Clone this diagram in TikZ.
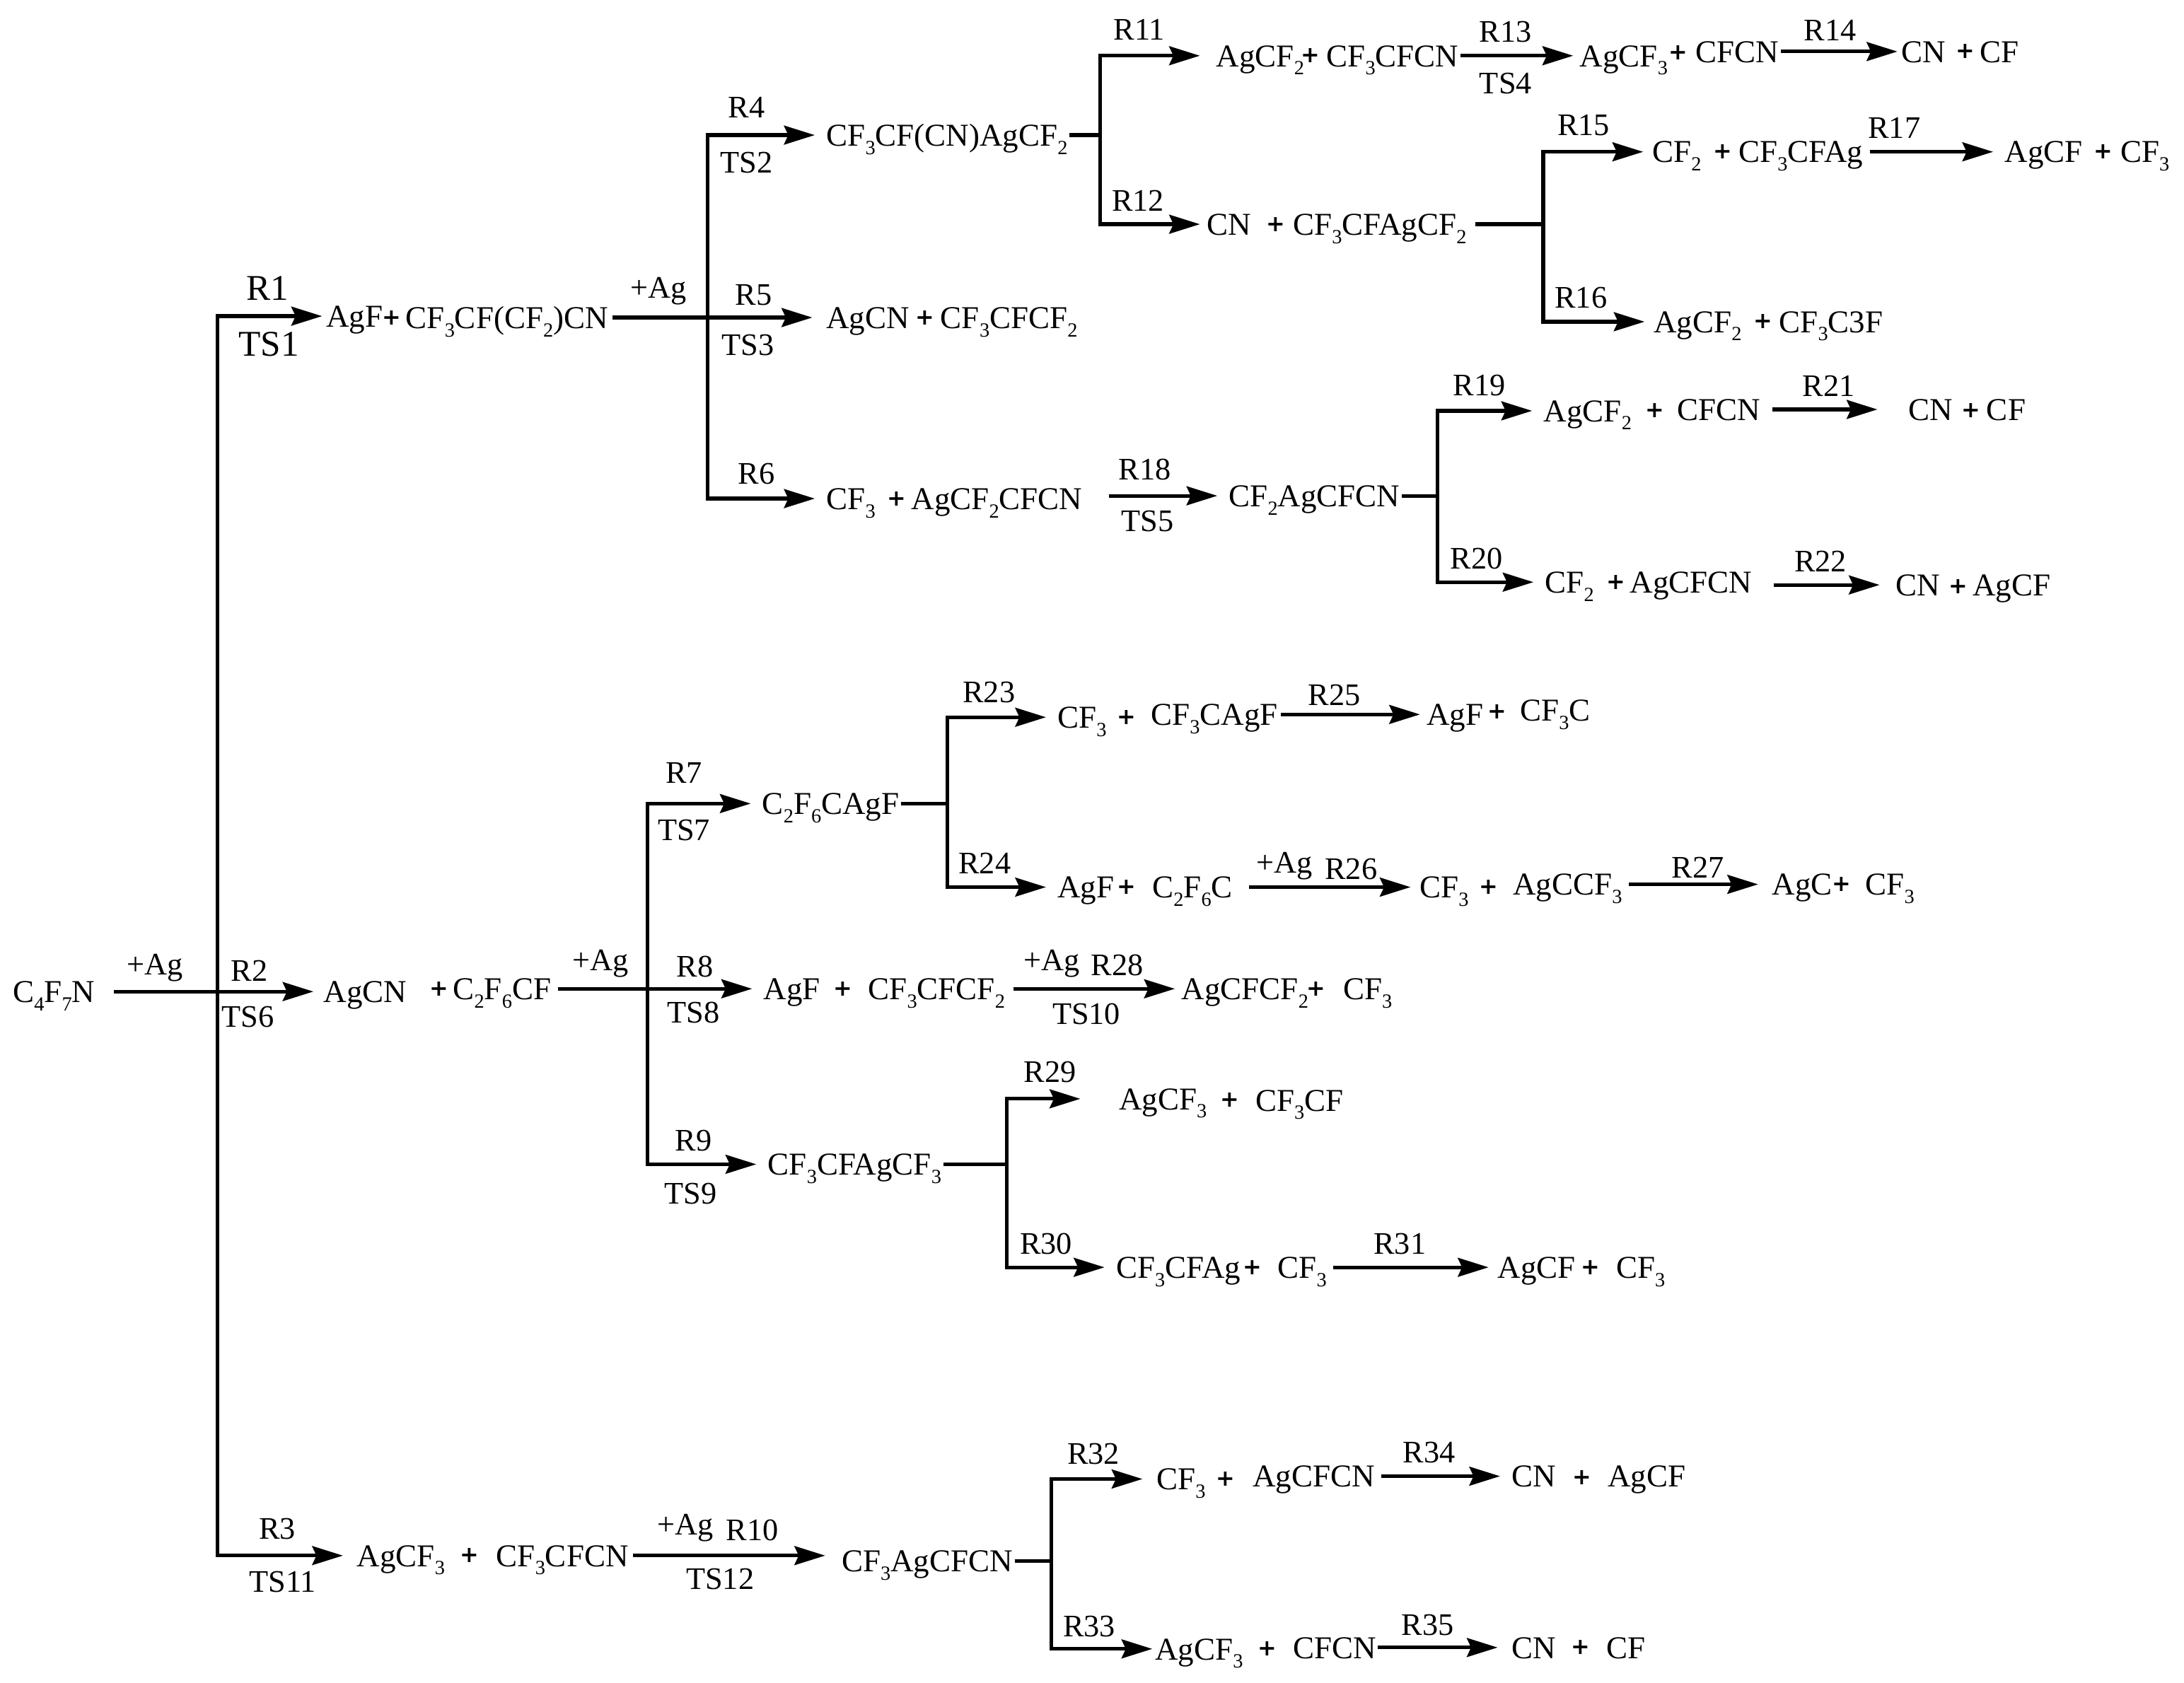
\documentclass[tikz,border=0pt]{standalone}
\usepackage{fontspec}
\setmainfont{Liberation Serif}
\newfontfamily\plusfont{DejaVu Sans}
\usetikzlibrary{arrows.meta}
\newcommand{\low}[1]{\raisebox{-1.7pt}{\fontsize{4.1}{5}\selectfont #1}}
\tikzset{
  >={Stealth[length=0.22cm,width=0.135cm,inset=0.03cm]},
  sp/.style={anchor=west,inner sep=0pt,text height=4.4pt,text depth=0pt,font=\fontsize{6.5}{8}\selectfont},
  pl/.style={inner sep=0pt,font=\plusfont\bfseries\fontsize{4.6}{6}\selectfont},
  lab/.style={inner sep=0pt,font=\fontsize{6.4}{8}\selectfont},
  biglab/.style={inner sep=0pt,font=\fontsize{7.4}{9}\selectfont},
  link/.style={->,shorten <=1pt,shorten >=1pt},
  branch/.style={->,shorten >=2pt}
}
\begin{document}
\begin{tikzpicture}[x=0.01cm,y=-0.01cm,line width=0.75pt]
  \useasboundingbox (0,0) rectangle (1568,1208);
  % start and first fork
  \node[sp] (c4f7n) at (8,712) {C\low{4}F\low{7}N};
  \coordinate (j0) at (156,712);
  \node[lab] (ag0) at (111,695) {+Ag};

  \node[sp] (agf1) at (233,227) {AgF};
  \node[pl] (pl1) at (281,228) {+};
  \node[sp] (cf3cfcf2cn) at (290,228) {CF\low{3}CF(CF\low{2})CN};
  \node[biglab] (r1) at (192,207) {R1};
  \node[biglab] (ts1) at (193,247) {TS1};

  \node[sp] (agcn2) at (231,712) {AgCN};
  \node[pl] (pl2) at (315,710) {+};
  \node[sp] (c2f6cf) at (324,710) {C\low{2}F\low{6}CF};
  \node[lab] (r2) at (179,697) {R2};
  \node[lab] (ts6) at (178,730) {TS6};

  \node[sp] (agcf33) at (255,1117) {AgCF\low{3}};
  \node[pl] (pl3) at (337,1117) {+};
  \node[sp] (cf3cfcn3) at (355,1117) {CF\low{3}CFCN};
  \node[lab] (r3) at (199,1098) {R3};
  \node[lab] (ts11) at (203,1136) {TS11};

  \draw[link,shorten <=3.5pt,shorten >=1.7pt] (c4f7n) -- (agcn2);
  \draw[->,shorten >=0.5pt] (j0) |- (agf1.west);
  \draw[->,shorten >=2.5pt] (j0) |- (agcf33.west);

  % upper fork
  \coordinate (j1) at (508,228);
  \node[lab] (ag1) at (473,209) {+Ag};
  \node[sp] (cf3cfcnagcf2) at (592,97) {CF\low{3}CF(CN)AgCF\low{2}};
  \node[lab] (r4) at (536,77) {R4};
  \node[lab] (ts2) at (536,117) {TS2};
  \node[sp] (agcn5) at (592,228) {AgCN};
  \node[pl] (pl5) at (664,228) {+};
  \node[sp] (cf3cfcf2) at (674,228) {CF\low{3}CFCF\low{2}};
  \node[lab] (r5) at (541,212) {R5};
  \node[lab] (ts3) at (537,248) {TS3};
  \node[sp] (cf36) at (592,358) {CF\low{3}};
  \node[pl] (pl6) at (644,358) {+};
  \node[sp] (agcf2cfcn) at (653,358) {AgCF\low{2}CFCN};
  \node[lab] (r6) at (543,340) {R6};
  \draw[link,shorten <=0.5pt,shorten >=2.5pt] (cf3cfcf2cn) -- (agcn5);
  \draw[branch] (j1) |- (cf3cfcnagcf2.west);
  \draw[branch] (j1) |- (cf36.west);

  % R11 to R17
  \coordinate (j2) at (790,97);
  \node[sp] (agcf211) at (872,40) {AgCF\low{2}};
  \node[pl] (pl11) at (941,40) {+};
  \node[sp] (cf3cfcn11) at (951,40) {CF\low{3}CFCN};
  \node[lab] (r11) at (818,21) {R11};
  \node[sp] (agcf313) at (1133,40) {AgCF\low{3}};
  \node[pl] (pl13) at (1205,38) {+};
  \node[sp] (cfcn13) at (1216,37) {CFCN};
  \node[lab] (r13) at (1081,23) {R13};
  \node[lab] (ts4) at (1081,60) {TS4};
  \node[sp] (cn14) at (1364,37) {CN};
  \node[pl] (pl14) at (1411,37) {+};
  \node[sp] (cf14) at (1420,37) {CF};
  \node[lab] (r14) at (1314,22) {R14};
  \node[sp] (cn12) at (865,161) {CN};
  \node[pl] (pl12) at (916,161) {+};
  \node[sp] (cf3cfagcf2) at (927,161) {CF\low{3}CFAgCF\low{2}};
  \node[lab] (r12) at (817,144) {R12};
  \coordinate (j3) at (1108,161);
  \node[sp] (cf215) at (1185,109) {CF\low{2}};
  \node[pl] (pl15) at (1237,109) {+};
  \node[sp] (cf3cfag15) at (1247,109) {CF\low{3}CFAg};
  \node[lab] (r15) at (1137,90) {R15};
  \node[sp] (agcf17) at (1438,109) {AgCF};
  \node[pl] (pl17) at (1510,109) {+};
  \node[sp] (cf317) at (1521,109) {CF\low{3}};
  \node[lab] (r17) at (1360,92) {R17};
  \node[sp] (agcf216) at (1186,231) {AgCF\low{2}};
  \node[pl] (pl16) at (1266,231) {+};
  \node[sp] (cf3c3f) at (1276,231) {CF\low{3}C3F};
  \node[lab] (r16) at (1135,214) {R16};
  \draw (cf3cfcnagcf2) -- (j2);
  \draw[branch,shorten >=3pt] (j2) |- (agcf211.west);
  \draw[branch,shorten >=1pt] (j2) |- (cn12.west);
  \draw[link,shorten <=0pt] (cf3cfcn11) -- (agcf313);
  \draw[->,shorten >=0.5pt] (cfcn13) -- (cn14);
  \draw[shorten <=1.5pt] (cf3cfagcf2) -- (j3);
  \draw[branch,shorten >=1.5pt] (j3) |- (cf215.west);
  \draw[branch,shorten >=1.5pt] (j3) |- (agcf216.west);
  \draw[link,shorten <=1pt,shorten >=2pt] (cf3cfag15) -- (agcf17);

  % R18 to R22
  \node[sp] (cf2agcfcn) at (881,356) {CF\low{2}AgCFCN};
  \node[lab] (r18) at (822,337) {R18};
  \node[lab] (ts5) at (824,374) {TS5};
  \coordinate (j4) at (1032,356);
  \node[sp] (agcf219) at (1107,295) {AgCF\low{2}};
  \node[pl] (pl19) at (1188,295) {+};
  \node[sp] (cfcn19) at (1203,294) {CFCN};
  \node[lab] (r19) at (1062,277) {R19};
  \node[sp] (cn21) at (1369,294) {CN};
  \node[pl] (pl21) at (1415,295) {+};
  \node[sp] (cf21) at (1425,294) {CF};
  \node[lab] (r21) at (1313,277) {R21};
  \node[sp] (cf220) at (1108,418) {CF\low{2}};
  \node[pl] (pl20) at (1160,418) {+};
  \node[sp] (agcfcn20) at (1169,418) {AgCFCN};
  \node[lab] (r20) at (1060,401) {R20};
  \node[sp] (cn22) at (1360,420) {CN};
  \node[pl] (pl22) at (1406,421) {+};
  \node[sp] (agcf22) at (1415,420) {AgCF};
  \node[lab] (r22) at (1307,403) {R22};
  \draw[link,shorten <=5pt,shorten >=2pt] (cf2agcfcn -| agcf2cfcn.east) -- (cf2agcfcn);
  \draw (cf2agcfcn) -- (j4);
  \draw[branch] (j4) |- (agcf219.west);
  \draw[branch] (j4) |- (cf220.west);
  \draw[link,shorten <=2pt,shorten >=6pt] (cfcn19) -- (cn21);
  \draw[link,shorten <=4pt,shorten >=3pt] (cn22 -| agcfcn20.east) -- (cn22);

  % second fork
  \coordinate (j5) at (465,710);
  \node[lab] (ag2) at (431,692) {+Ag};
  \node[sp] (c2f6cagf) at (546,577) {C\low{2}F\low{6}CAgF};
  \node[lab] (r7) at (491,555) {R7};
  \node[lab] (ts7) at (491,596) {TS7};
  \node[sp] (agf8) at (547,710) {AgF};
  \node[pl] (pl8) at (605,710) {+};
  \node[sp] (cf3cfcf28) at (622,710) {CF\low{3}CFCF\low{2}};
  \node[lab] (r8) at (499,694) {R8};
  \node[lab] (ts8) at (498,727) {TS8};
  \node[lab] (ag28) at (755,692) {+Ag};
  \node[lab] (r28) at (802,693) {R28};
  \node[lab] (ts10) at (780,728) {TS10};
  \node[sp] (agcfcf2) at (847,710) {AgCFCF\low{2}};
  \node[pl] (pl28) at (945,710) {+};
  \node[sp] (cf328) at (963,710) {CF\low{3}};
  \node[sp] (cf3cfagcf3) at (550,836) {CF\low{3}CFAgCF\low{3}};
  \node[lab] (r9) at (498,819) {R9};
  \node[lab] (ts9) at (496,857) {TS9};
  \draw[link,shorten <=1pt,shorten >=2pt] (c2f6cf) -- (agf8);
  \draw[branch] (j5) |- (c2f6cagf.west);
  \draw[branch] (j5) |- (cf3cfagcf3.west);
  \draw[link,shorten <=1.4pt,shorten >=1pt] (cf3cfcf28) -- (agcfcf2);

  % R23 to R27
  \coordinate (j6) at (680,577);
  \node[sp] (cf323) at (758,515) {CF\low{3}};
  \node[pl] (pl23) at (809,515) {+};
  \node[sp] (cf3cagf) at (825,513) {CF\low{3}CAgF};
  \node[lab] (r23) at (710,497) {R23};
  \node[sp] (agf25) at (1023,513) {AgF};
  \node[pl] (pl25) at (1075,511) {+};
  \node[sp] (cf3c) at (1090,510) {CF\low{3}C};
  \node[lab] (r25) at (958,499) {R25};
  \node[sp] (agf24) at (758,637) {AgF};
  \node[pl] (pl24) at (809,637) {+};
  \node[sp] (c2f6c) at (826,637) {C\low{2}F\low{6}C};
  \node[lab] (r24) at (707,620) {R24};
  \node[lab] (ag26) at (922,622) {+Ag};
  \node[lab] (r26) at (970,624) {R26};
  \node[sp] (cf326) at (1018,637) {CF\low{3}};
  \node[pl] (pl26) at (1069,637) {+};
  \node[sp] (agccf3) at (1085,635) {AgCCF\low{3}};
  \node[sp] (agc27) at (1271,635) {AgC};
  \node[pl] (pl27) at (1322,635) {+};
  \node[sp] (cf327) at (1338,635) {CF\low{3}};
  \node[lab] (r27) at (1219,623) {R27};
  \draw (c2f6cagf) -- (j6);
  \draw[branch] (j6) |- (cf323.west);
  \draw[branch] (j6) |- (agf24.west);
  \draw[link,shorten <=0.3pt] (cf3cagf) -- (agf25);
  \draw[link,shorten <=3pt,shorten >=1.5pt] (c2f6c) -- (cf326);
  \draw[link,shorten <=1pt,shorten >=2.5pt] (agccf3) -- (agc27);

  % R29 to R31
  \coordinate (j7) at (723,836);
  \node[sp] (agcf329) at (802,789) {AgCF\low{3}};
  \node[pl] (pl29) at (883,790) {+};
  \node[sp] (cf3cf) at (900,790) {CF\low{3}CF};
  \node[lab] (r29) at (754,770) {R29};
  \node[sp] (cf3cfag30) at (800,910) {CF\low{3}CFAg};
  \node[pl] (pl30) at (899,910) {+};
  \node[sp] (cf330) at (916,910) {CF\low{3}};
  \node[lab] (r30) at (751,893) {R30};
  \node[sp] (agcf31) at (1074,910) {AgCF};
  \node[pl] (pl31) at (1142,910) {+};
  \node[sp] (cf331) at (1159,910) {CF\low{3}};
  \node[lab] (r31) at (1005,893) {R31};
  \draw (cf3cfagcf3) -- (j7);
  \draw[branch,shorten >=7.5pt] (j7) |- (agcf329.west);
  \draw[branch] (j7) |- (cf3cfag30.west);
  \draw[link,shorten <=1pt,shorten >=1.5pt] (cf330) -- (agcf31);

  % lower fork
  \node[lab] (ag10) at (492,1097) {+Ag};
  \node[lab] (r10) at (540,1099) {R10};
  \node[lab] (ts12) at (517,1134) {TS12};
  \node[sp] (cf3agcfcn) at (603,1121) {CF\low{3}AgCFCN};
  \coordinate (j8) at (755,1121);
  \node[sp] (cf332) at (829,1062) {CF\low{3}};
  \node[pl] (pl32) at (880,1062) {+};
  \node[sp] (agcfcn32) at (898,1060) {AgCFCN};
  \node[lab] (r32) at (785,1044) {R32};
  \node[sp] (cn34) at (1084,1060) {CN};
  \node[pl] (pl34) at (1136,1061) {+};
  \node[sp] (agcf34) at (1153,1060) {AgCF};
  \node[lab] (r34) at (1026,1043) {R34};
  \node[sp] (agcf333) at (828,1184) {AgCF\low{3}};
  \node[pl] (pl33) at (910,1184) {+};
  \node[sp] (cfcn33) at (927,1183) {CFCN};
  \node[lab] (r33) at (782,1168) {R33};
  \node[sp] (cn35) at (1084,1183) {CN};
  \node[pl] (pl35) at (1135,1183) {+};
  \node[sp] (cf35) at (1152,1183) {CF};
  \node[lab] (r35) at (1025,1167) {R35};
  \draw[link,shorten <=0.5pt,shorten >=3pt] (cf3cfcn3) -- (cf3cfcn3 -| cf3agcfcn.west);
  \draw (cf3agcfcn) -- (j8);
  \draw[branch,shorten >=2.5pt] (j8) |- (cf332.west);
  \draw[->,shorten >=0.2pt] (j8) |- (agcf333.west);
  \draw[link,shorten <=1pt,shorten >=2pt] (agcfcn32) -- (cn34);
  \draw[link,shorten <=0pt,shorten >=2.5pt] (cfcn33) -- (cn35);
\end{tikzpicture}
\end{document}
